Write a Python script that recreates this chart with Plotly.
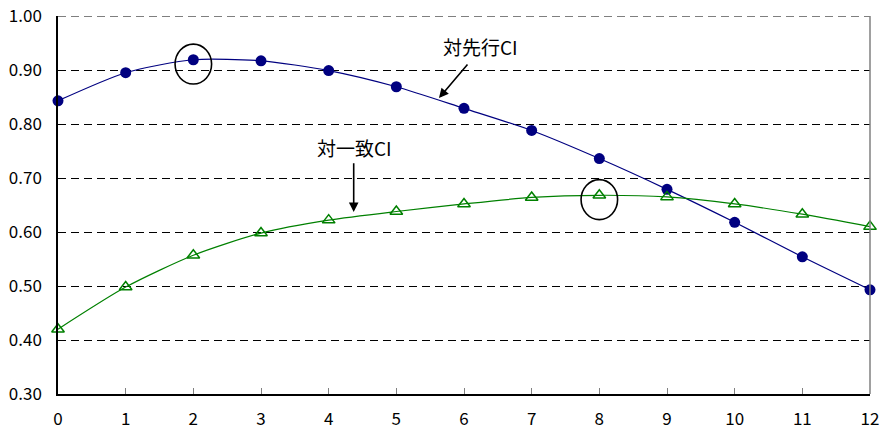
import plotly.graph_objects as go

# Lag (months) on the horizontal axis
lags = [0, 1, 2, 3, 4, 5, 6, 7, 8, 9, 10, 11, 12]

# Correlation with the leading CI
vs_leading = [0.843, 0.895, 0.919, 0.917, 0.899, 0.869, 0.829, 0.788,
              0.736, 0.679, 0.618, 0.554, 0.493]

# Correlation with the coincident CI
vs_coincident = [0.420, 0.498, 0.557, 0.598, 0.622, 0.638, 0.652, 0.664,
                 0.668, 0.665, 0.652, 0.633, 0.610]

y_ticks = [0.30, 0.40, 0.50, 0.60, 0.70, 0.80, 0.90, 1.00]
y_tick_text = [f"{v:.2f}" for v in y_ticks]

# Peaks highlighted with an ellipse
peak_leading = 2
peak_coincident = 8

NAVY = "#000080"
GREEN = "#008000"
FONT = "Noto Sans CJK JP"

fig = go.Figure()

fig.add_trace(go.Scatter(
    x=lags, y=vs_leading, mode="lines+markers",
    line=dict(color=NAVY, width=1.2, shape="spline", smoothing=0.7),
    marker=dict(symbol="circle", size=11, color=NAVY),
    cliponaxis=False, showlegend=False,
))

fig.add_trace(go.Scatter(
    x=lags, y=vs_coincident, mode="lines+markers",
    line=dict(color=GREEN, width=1.2, shape="spline", smoothing=0.7),
    marker=dict(symbol="triangle-up-open", size=11, color=GREEN,
                line=dict(color=GREEN, width=1.5)),
    cliponaxis=False, showlegend=False,
))

# Ellipses around the peak points
def ring(cx, cy, rx=0.27, ry=0.037, dy=-0.008):
    return dict(type="circle", xref="x", yref="y",
                x0=cx - rx, x1=cx + rx, y0=cy + dy - ry, y1=cy + dy + ry,
                line=dict(color="black", width=1.6))

shapes = [
    ring(lags[peak_leading], vs_leading[peak_leading]),
    ring(lags[peak_coincident], vs_coincident[peak_coincident]),
    # dashed line along the top edge and grey frame on the right
    dict(type="line", xref="paper", yref="y", x0=0, x1=1, y0=1.0, y1=1.0,
         line=dict(color="black", width=1, dash="8px,5px")),
    dict(type="line", xref="paper", yref="paper", x0=1, x1=1, y0=0, y1=1,
         line=dict(color="#808080", width=1.5)),
]

annotations = [
    dict(x=6.24, y=0.943, xref="x", yref="y", text="対先行CI", showarrow=False,
         font=dict(family=FONT, size=19, color="black")),
    dict(x=4.38, y=0.756, xref="x", yref="y", text="対一致CI", showarrow=False,
         font=dict(family=FONT, size=19, color="black")),
    dict(x=5.63, y=0.848, ax=6.07, ay=0.913, xref="x", yref="y",
         axref="x", ayref="y", text="", showarrow=True,
         arrowhead=2, arrowsize=1.2, arrowwidth=1.6, arrowcolor="black"),
    dict(x=4.37, y=0.637, ax=4.37, ay=0.730, xref="x", yref="y",
         axref="x", ayref="y", text="", showarrow=True,
         arrowhead=2, arrowsize=1.2, arrowwidth=1.6, arrowcolor="black"),
]

fig.update_layout(
    width=879, height=429,
    margin=dict(l=58, r=9, t=16, b=35),
    paper_bgcolor="white", plot_bgcolor="white",
    font=dict(family=FONT, size=17, color="black"),
    shapes=shapes, annotations=annotations,
    xaxis=dict(
        range=[0, 12], tickmode="array", tickvals=lags,
        ticktext=[str(v) for v in lags], automargin=False,
        ticklabeloverflow="allow",
        showgrid=False, zeroline=False,
        showline=True, linecolor="black", linewidth=1.5,
        ticks="inside", ticklen=6, tickcolor="#808080", tickwidth=1,
        tickfont=dict(size=17), ticklabelstandoff=9,
    ),
    yaxis=dict(
        range=[0.3, 1.0], tickmode="array", tickvals=y_ticks,
        ticktext=y_tick_text, automargin=False,
        showgrid=True, gridcolor="black", gridwidth=1, griddash="8px,5px",
        zeroline=False, showline=True, linecolor="black", linewidth=1.5,
        ticks="", tickfont=dict(size=17), ticklabelstandoff=11,
    ),
)

fig.write_html("out.html")
